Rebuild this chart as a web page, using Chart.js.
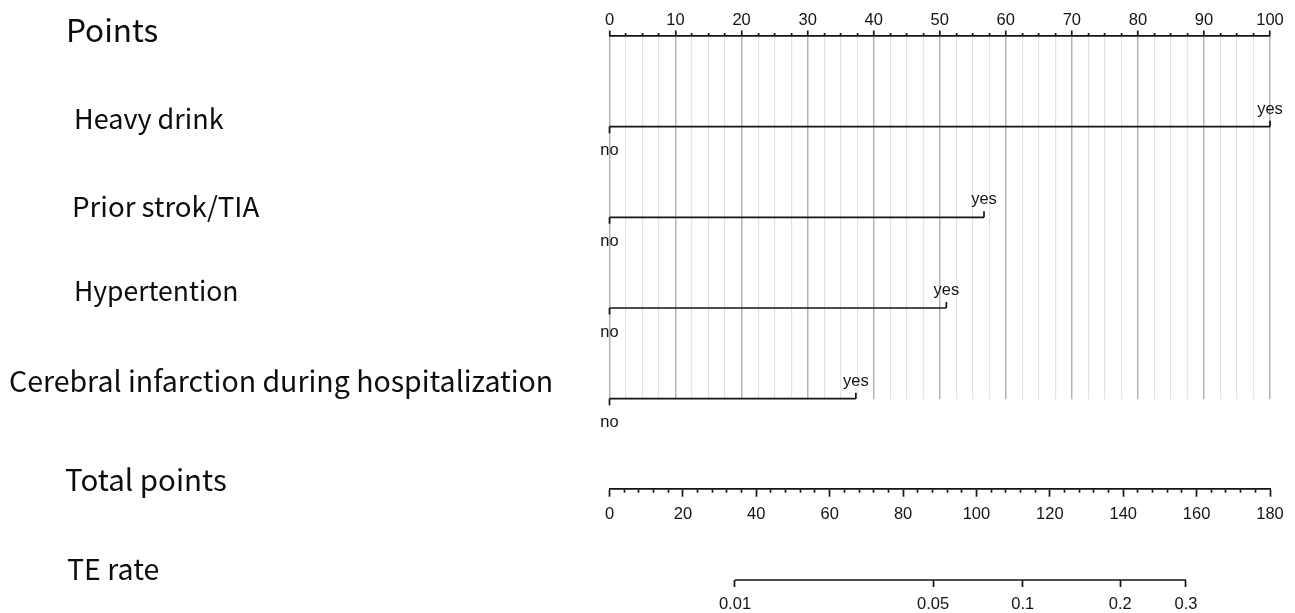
<!DOCTYPE html>
<html>
<head>
<meta charset="utf-8">
<title>Nomogram</title>
<script src="https://cdn.jsdelivr.net/npm/chart.js@4.4.1/dist/chart.umd.min.js"></script>
<style>
  html, body { margin: 0; padding: 0; background: #ffffff; }
  #wrap { width: 1295px; height: 613px; }
</style>
</head>
<body>
<div id="wrap"><canvas id="nomo" width="1295" height="613"></canvas></div>
<script>
// ---- Data -----------------------------------------------------------------
// Rows of the nomogram, top to bottom
const rowNames = [
  'Points',
  'Heavy drink',
  'Prior strok/TIA',
  'Hypertention',
  'Cerebral infarction during hospitalization',
  'Total points',
  'TE rate'
];
// Binary predictors: "no" scores 0 points, "yes" scores the value below
const predictors = [
  'Heavy drink',
  'Prior strok/TIA',
  'Hypertention',
  'Cerebral infarction during hospitalization'
];
const yesPoints = [100, 56.7, 51, 37.3];
const levelLabels = ['no', 'yes'];

// Points scale: range, minor step, labelled step
const pointsRange = [0, 100];
const pointsStep = 2.5;
const pointsLabelStep = 10;

// Total points scale: range, minor step, labelled step
const totalRange = [0, 180];
const totalStep = 4;
const totalLabelStep = 20;

// TE rate tick labels and the total points at which each one sits
const teRateLabels = ['0.01', '0.05', '0.1', '0.2', '0.3'];
const teRateAtTotal = [34.2, 88.2, 112.6, 139.2, 157.1];

// ---- Styles ---------------------------------------------------------------
const INK = '#141414';
const TICK_FONT = { family: '"Liberation Sans", Arial, Helvetica, sans-serif', size: 16.5 };
const TITLE_FAMILY = '"Noto Sans CJK SC", "Noto Sans", sans-serif';
const LINE_W = 1.7;

// Left-hand row title placement: x start, baseline shift from the row, font size
const titleLayout = [
  { x: 66, dy: 5.5, size: 31.5 },
  { x: 74, dy: 2, size: 27 },
  { x: 72, dy: 0, size: 27.7 },
  { x: 74, dy: -7.5, size: 26.5 },
  { x: 9,  dy: -6.5, size: 28.5 },
  { x: 65, dy: 1.5, size: 29.5 },
  { x: 67, dy: 0, size: 28.5 }
];

const rowOf = name => rowNames.indexOf(name);
const gridEndRow = rowOf(predictors[predictors.length - 1]);

function stepTicks(range, step, labelStep) {
  const out = [];
  const n = Math.round((range[1] - range[0]) / step);
  for (let k = 0; k <= n; k++) {
    const v = range[0] + k * step;
    out.push({ value: v, major: Math.abs(v / labelStep - Math.round(v / labelStep)) < 1e-9 });
  }
  return out;
}
const isMajor = ctx => !!(ctx.tick && ctx.tick.major);

// ---- Datasets -------------------------------------------------------------
const datasets = predictors.map((name, i) => ({
  label: name,
  data: [{ x: 0, y: rowOf(name) }, { x: yesPoints[i], y: rowOf(name) }],
  xAxisID: 'x',
  yAxisID: 'y',
  showLine: true,
  borderColor: INK,
  borderWidth: LINE_W,
  pointRadius: 0,
  clip: false
}));
datasets.push({
  label: 'TE rate',
  data: [
    { x: teRateAtTotal[0], y: rowOf('TE rate') },
    { x: teRateAtTotal[teRateAtTotal.length - 1], y: rowOf('TE rate') }
  ],
  xAxisID: 'xRate',
  yAxisID: 'y',
  showLine: true,
  borderColor: INK,
  borderWidth: LINE_W,
  pointRadius: 0,
  clip: false
});

// ---- Plugins --------------------------------------------------------------
// End marks and level labels of each predictor row
const levelMarks = {
  id: 'levelMarks',
  afterDatasetsDraw(chart) {
    const { ctx, scales: { x, y } } = chart;
    ctx.save();
    ctx.strokeStyle = INK;
    ctx.lineWidth = LINE_W;
    ctx.fillStyle = INK;
    ctx.font = `${TICK_FONT.size}px ${TICK_FONT.family}`;
    ctx.textAlign = 'center';
    ctx.textBaseline = 'alphabetic';
    predictors.forEach((name, i) => {
      const py = y.getPixelForValue(rowOf(name));
      const pNo = x.getPixelForValue(0);
      const pYes = x.getPixelForValue(yesPoints[i]);
      ctx.beginPath();
      ctx.moveTo(pNo, py);
      ctx.lineTo(pNo, py + 6.5);
      ctx.moveTo(pYes, py);
      ctx.lineTo(pYes, py - 6);
      ctx.stroke();
      ctx.fillText(levelLabels[0], pNo, py + 28.5);
      ctx.fillText(levelLabels[1], pYes, py - 13);
    });
    ctx.restore();
  }
};

// Row titles on the left
const rowTitles = {
  id: 'rowTitles',
  afterDraw(chart) {
    const { ctx, scales: { y } } = chart;
    ctx.save();
    ctx.fillStyle = '#0d0d0d';
    ctx.textAlign = 'left';
    ctx.textBaseline = 'alphabetic';
    rowNames.forEach((name, r) => {
      const L = titleLayout[r];
      ctx.font = `${L.size}px ${TITLE_FAMILY}`;
      ctx.fillText(name, L.x, y.getPixelForValue(r) + L.dy);
    });
    ctx.restore();
  }
};

// ---- Chart ----------------------------------------------------------------
new Chart(document.getElementById('nomo'), {
  type: 'scatter',
  data: { datasets },
  plugins: [levelMarks, rowTitles],
  options: {
    responsive: false,
    devicePixelRatio: 1,
    animation: false,
    events: [],
    layout: { padding: { left: 609.5, right: 25, top: 0, bottom: 33 } },
    plugins: { legend: { display: false }, tooltip: { enabled: false } },
    scales: {
      y: {
        type: 'linear',
        min: 0,
        max: rowNames.length - 1,
        reverse: true,
        display: false
      },
      x: {
        type: 'linear',
        position: 'top',
        min: pointsRange[0],
        max: pointsRange[1],
        afterBuildTicks: s => { s.ticks = stepTicks(pointsRange, pointsStep, pointsLabelStep); },
        afterFit: s => { s.height = 36; },
        ticks: {
          autoSkip: false,
          maxRotation: 0,
          padding: 0,
          color: INK,
          font: TICK_FONT,
          callback: (v, i, ticks) => (ticks[i].major ? String(v) : '')
        },
        grid: {
          drawOnChartArea: true,
          color: ctx => (isMajor(ctx) ? '#b4b4b4' : '#e3e3e3'),
          lineWidth: ctx => (isMajor(ctx) ? 1.5 : 1.2),
          drawTicks: true,
          tickLength: 5.5,
          tickColor: INK,
          tickWidth: LINE_W,
          tickBorderDash: ctx => (isMajor(ctx) ? [] : [0, 2.5, 3, 100])
        },
        border: {
          display: true,
          color: INK,
          width: LINE_W,
          // vertical grid lines stop at the last predictor row
          dash: ctx => {
            if (!ctx.tick) return [];
            const c = ctx.chart;
            const len = c.scales.y.getPixelForValue(gridEndRow) - c.chartArea.top;
            return [len, 4000];
          }
        }
      },
      xTotal: {
        type: 'linear',
        axis: 'x',
        position: { y: rowOf('Total points') },
        min: totalRange[0],
        max: totalRange[1],
        afterBuildTicks: s => { s.ticks = stepTicks(totalRange, totalStep, totalLabelStep); },
        ticks: {
          autoSkip: false,
          maxRotation: 0,
          padding: 8,
          color: INK,
          font: TICK_FONT,
          callback: (v, i, ticks) => (ticks[i].major ? String(v) : '')
        },
        grid: {
          drawOnChartArea: false,
          drawTicks: true,
          tickLength: 7,
          tickColor: INK,
          tickWidth: LINE_W,
          tickBorderDash: ctx => (isMajor(ctx) ? [] : [3, 100])
        },
        border: { display: true, color: INK, width: LINE_W }
      },
      xRate: {
        type: 'linear',
        axis: 'x',
        position: { y: rowOf('TE rate') },
        min: totalRange[0],
        max: totalRange[1],
        afterBuildTicks: s => { s.ticks = teRateAtTotal.map(v => ({ value: v })); },
        ticks: {
          autoSkip: false,
          maxRotation: 0,
          padding: 8,
          color: INK,
          font: TICK_FONT,
          callback: (v, i) => teRateLabels[i]
        },
        grid: {
          drawOnChartArea: false,
          drawTicks: true,
          tickLength: 7,
          tickColor: INK,
          tickWidth: LINE_W
        },
        border: { display: false }
      }
    }
  }
});
</script>
</body>
</html>
